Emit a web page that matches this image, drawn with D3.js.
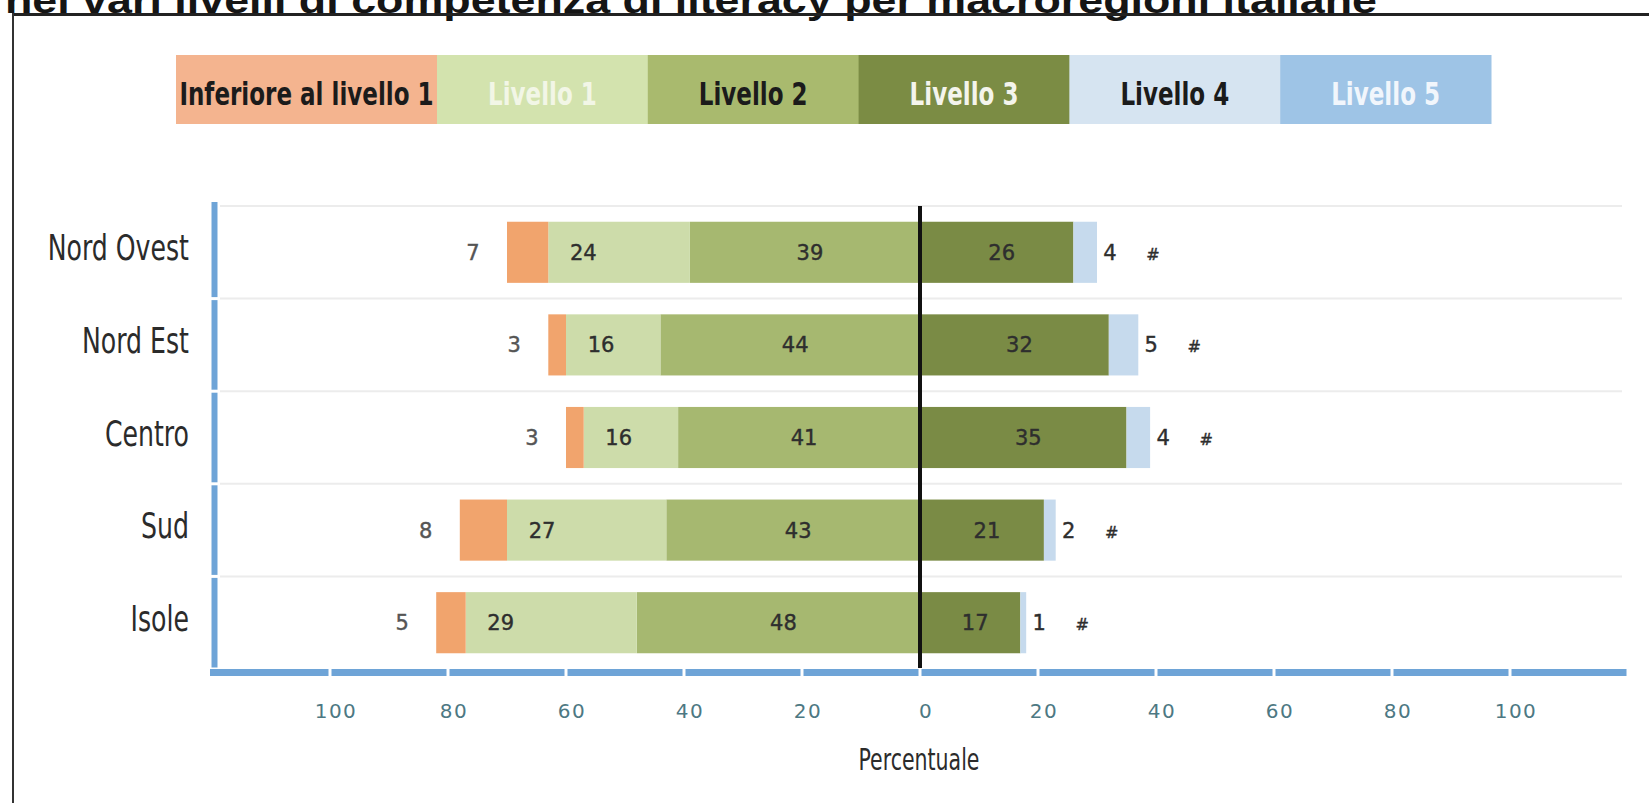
<!DOCTYPE html>
<html>
<head>
<meta charset="utf-8">
<script src="https://cdn.jsdelivr.net/npm/d3@7"></script>
<style>
  html, body { margin: 0; padding: 0; background: #fff; }
  svg { display: block; }
</style>
</head>
<body>
<svg id="chart" width="1649" height="803"></svg>
<script>
// ---- data ----
const title = "nei vari livelli di competenza di literacy per macroregioni italiane";
const categories = ["Nord Ovest", "Nord Est", "Centro", "Sud", "Isole"];
const levels = ["Inferiore al livello 1", "Livello 1", "Livello 2", "Livello 3", "Livello 4", "Livello 5"];
const belowLevel1 = [7, 3, 3, 8, 5];
const level1 = [24, 16, 16, 27, 29];
const level2 = [39, 44, 41, 43, 48];
const level3 = [26, 32, 35, 21, 17];
const level4 = [4, 5, 4, 2, 1];
const level5 = [0, 0, 0, 0, 0];
const level5Labels = ["#", "#", "#", "#", "#"];
const xTicks = [-100, -80, -60, -40, -20, 0, 20, 40, 60, 80, 100];
const xTickLabels = ["100", "80", "60", "40", "20", "0", "20", "40", "60", "80", "100"];
const xAxisTitle = "Percentuale";

// ---- style ----
const barColors = ["#f1a46d", "#cddcaa", "#a6b870", "#7a8b45", "#c6daed", "#9dc3e6"];
const legendColors = ["#f4b48f", "#d3e3ae", "#a9ba6e", "#7b8c44", "#d6e4f1", "#9ec4e6"];
const legendTextColors = ["#1b1b1b", "#f2f6e6", "#1b1b1b", "#f4f4ec", "#1b1b1b", "#f1f6fc"];
const axisBlue = "#6ea4d7";
const condensedFont = "'Liberation Sans Narrow', 'Arial Narrow', 'DejaVu Sans Condensed', sans-serif";

const svg = d3.select("#chart");

// squeeze a text horizontally to mimic a condensed face
function condense(sel, f) {
  sel.each(function () {
    const len = this.getComputedTextLength();
    d3.select(this).attr("textLength", len * f).attr("lengthAdjust", "spacingAndGlyphs");
  });
}

// frame + clipped title
svg.append("text")
  .attr("x", 5).attr("y", 13)
  .attr("font-family", "'Liberation Sans', Arial, sans-serif")
  .attr("font-weight", "bold")
  .attr("font-size", 36)
  .attr("fill", "#151515")
  .attr("textLength", 1372)
  .attr("lengthAdjust", "spacingAndGlyphs")
  .text(title);
svg.append("line").attr("x1", 12).attr("x2", 1649).attr("y1", 14.5).attr("y2", 14.5)
  .attr("stroke", "#222").attr("stroke-width", 3);
svg.append("line").attr("x1", 13).attr("x2", 13).attr("y1", 13).attr("y2", 803)
  .attr("stroke", "#333").attr("stroke-width", 2);

// ---- legend ----
const legendLeft = 176, legendRight = 1491, legendTop = 55, legendH = 69, firstW = 261;
const otherW = (legendRight - legendLeft - firstW) / (levels.length - 1);
const legendX = i => i === 0 ? legendLeft : legendLeft + firstW + (i - 1) * otherW;
const legendW = i => i === 0 ? firstW : otherW;
const lg = svg.append("g");
levels.forEach((lev, i) => {
  lg.append("rect")
    .attr("x", legendX(i)).attr("y", legendTop)
    .attr("width", legendW(i) + 0.5).attr("height", legendH)
    .attr("fill", legendColors[i]);
});
const legendTexts = lg.selectAll("text.leg").data(levels).join("text")
  .attr("class", "leg")
  .attr("x", (d, i) => legendX(i) + legendW(i) / 2).attr("y", 105)
  .attr("text-anchor", "middle")
  .attr("font-family", condensedFont)
  .attr("font-weight", "bold")
  .attr("font-size", 32)
  .attr("fill", (d, i) => legendTextColors[i])
  .text(d => d);
condense(legendTexts, 0.8);

// ---- scales ----
const x = d3.scaleLinear().domain([-120, 120]).range([212, 1628]);
const y = d3.scaleBand().domain(categories).range([206, 669]).padding(0);
const barH = y.bandwidth() * 0.66;
const barY = c => y(c) + (y.bandwidth() - barH) / 2;

// gridlines (row separators)
svg.append("g").selectAll("line").data(categories).join("line")
  .attr("x1", 220).attr("x2", 1622)
  .attr("y1", d => y(d)).attr("y2", d => y(d))
  .attr("stroke", "#ececec").attr("stroke-width", 2);

// ---- stacked data ----
const rows = categories.map((c, i) => {
  const segs = [];
  segs.push({ c, k: 2, x0: -level2[i], x1: 0, v: level2[i] });
  segs.push({ c, k: 1, x0: -(level2[i] + level1[i]), x1: -level2[i], v: level1[i] });
  segs.push({ c, k: 0, x0: -(level2[i] + level1[i] + belowLevel1[i]), x1: -(level2[i] + level1[i]), v: belowLevel1[i] });
  segs.push({ c, k: 3, x0: 0, x1: level3[i], v: level3[i] });
  segs.push({ c, k: 4, x0: level3[i], x1: level3[i] + level4[i], v: level4[i] });
  segs.push({ c, k: 5, x0: level3[i] + level4[i], x1: level3[i] + level4[i] + level5[i], v: level5Labels[i] });
  return segs;
});
const allSegs = rows.flat();

svg.append("g").selectAll("rect").data(allSegs.filter(s => s.x1 > s.x0)).join("rect")
  .attr("x", d => x(d.x0))
  .attr("width", d => x(d.x1) - x(d.x0))
  .attr("y", d => barY(d.c))
  .attr("height", barH)
  .attr("fill", d => barColors[d.k]);

// ---- data labels ----
const labelX = d => {
  if (d.k === 0) return x(d.x0) - 34;
  if (d.k === 1) return x(d.x0) + 35;
  if (d.k === 2 || d.k === 3) return (x(d.x0) + x(d.x1)) / 2 + 5;
  if (d.k === 4) return x(d.x1) + 13;
  return x(d.x0) + 56;
};
svg.append("g").selectAll("text").data(allSegs).join("text")
  .attr("x", labelX)
  .attr("y", d => barY(d.c) + barH / 2 + 7.5)
  .attr("text-anchor", "middle")
  .attr("font-family", "'DejaVu Sans', Verdana, sans-serif")
  .attr("font-size", d => d.k === 5 ? 16 : 21)
  .attr("fill", d => d.k === 0 ? "#555" : "#2e2e2e")
  .attr("stroke", d => d.k === 0 ? "#555" : "#2e2e2e")
  .attr("stroke-width", 0.4)
  .text(d => d.v);

// zero line
svg.append("line")
  .attr("x1", x(0)).attr("x2", x(0))
  .attr("y1", 206).attr("y2", 668)
  .attr("stroke", "#111").attr("stroke-width", 4);

// ---- left axis (segmented) ----
svg.append("g").selectAll("line").data(categories).join("line")
  .attr("x1", 214.5).attr("x2", 214.5)
  .attr("y1", (d, i) => y(d) + (i === 0 ? -4 : 1.5))
  .attr("y2", d => y(d) + y.bandwidth() - 1.5)
  .attr("stroke", axisBlue).attr("stroke-width", 6);

// ---- bottom axis (segmented) ----
const segBounds = d3.range(-120, 121, 20);
const bottomSegs = d3.pairs(segBounds);
svg.append("g").selectAll("line").data(bottomSegs).join("line")
  .attr("x1", d => x(d[0]) + (d[0] === -120 ? -2 : 1.5))
  .attr("x2", d => x(d[1]) - 1.5)
  .attr("y1", 672.5).attr("y2", 672.5)
  .attr("stroke", axisBlue).attr("stroke-width", 7);

// tick labels
svg.append("g").selectAll("text").data(xTicks).join("text")
  .attr("x", d => x(d) + 6)
  .attr("y", 718)
  .attr("text-anchor", "middle")
  .attr("font-family", "'DejaVu Sans', Verdana, sans-serif")
  .attr("font-size", 20)
  .attr("letter-spacing", 1.5)
  .attr("fill", "#4d7883")
  .text((d, i) => xTickLabels[i]);

// axis title
const axTitle = svg.append("text")
  .attr("x", 919).attr("y", 770)
  .attr("text-anchor", "middle")
  .attr("font-family", condensedFont)
  .attr("font-size", 30)
  .attr("fill", "#2b2b2b")
  .text(xAxisTitle);
condense(axTitle, 0.76);

// category labels
const catLabels = svg.append("g").selectAll("text").data(categories).join("text")
  .attr("x", 189)
  .attr("y", d => y(d) + y.bandwidth() / 2 + 8)
  .attr("text-anchor", "end")
  .attr("font-family", condensedFont)
  .attr("font-size", 35)
  .attr("fill", "#2b2b2b")
  .text(d => d);
condense(catLabels, 0.8);
</script>
</body>
</html>
